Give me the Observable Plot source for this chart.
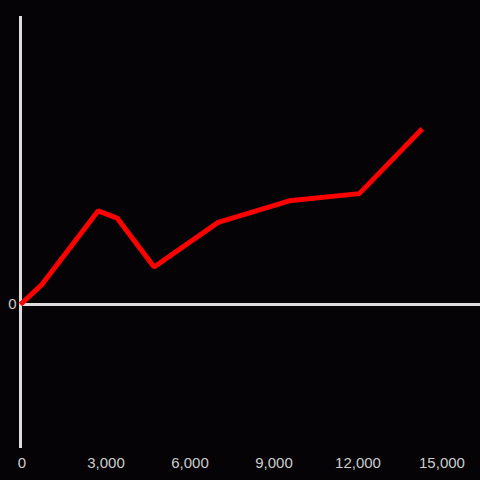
<!DOCTYPE html>
<html><head>
<meta charset="utf-8">
<script src="https://cdn.jsdelivr.net/npm/d3@7"></script>
<script src="https://cdn.jsdelivr.net/npm/@observablehq/plot@0.6"></script>
<style>html,body{margin:0;padding:0;background:#050306;}</style>
</head><body><div id="chart"></div>
<script>
const xs = [0, 770, 2770, 3450, 4770, 7060, 9600, 12100, 14350];
const ys = [0, 14, 65, 60, 26, 57, 72, 77, 122];
const xTicks = [0, 3000, 6000, 9000, 12000, 15000];
const yTicks = [0];
const data = xs.map((x, i) => ({x, y: ys[i]}));
const chart = Plot.plot({
  width: 480, height: 480,
  marginTop: 16, marginBottom: 32, marginLeft: 20, marginRight: 0,
  style: {background: "#050306", color: "#cccccc", fontFamily: "Liberation Sans, Arial, sans-serif", fontSize: "15px"},
  x: {domain: [0, 16430], label: null},
  y: {domain: [-100, 200], label: null},
  marks: [
    Plot.axisX({ticks: xTicks, tickFormat: d3.format(","), tickSize: 0, tickPadding: 8.5, dx: 1.5, label: null}),
    Plot.axisY({ticks: yTicks, tickSize: 0, tickPadding: 4, label: null}),
    Plot.ruleX([0], {stroke: "#dddddd", strokeWidth: 3}),
    Plot.ruleY([0], {stroke: "#dddddd", strokeWidth: 3}),
    Plot.line(data, {x: "x", y: "y", stroke: "#ff0000", strokeWidth: 5, strokeLinecap: "butt", strokeLinejoin: "miter"})
  ]
});
document.getElementById("chart").appendChild(chart);
</script>
</body></html>
